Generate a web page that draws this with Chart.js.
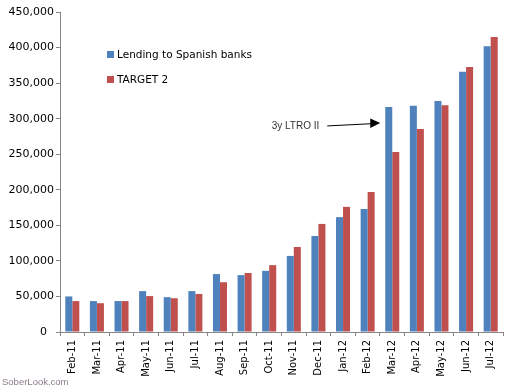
<!DOCTYPE html>
<html>
<head>
<meta charset="utf-8">
<script src="https://cdn.jsdelivr.net/npm/chart.js@4.4.0/dist/chart.umd.min.js"></script>
<style>
  html, body { margin: 0; padding: 0; background: #fff; }
  #wrap { position: relative; width: 507px; height: 388px; }
  #credit { position: absolute; left: 2px; top: 376px; font: 9.5px "Liberation Sans", sans-serif; color: #8a7c8a; }
</style>
</head>
<body>
<div id="wrap">
  <canvas id="chart" width="507" height="388"></canvas>
  <div id="credit">SoberLook.com</div>
</div>
<script>
'use strict';
let months = ['Feb-11','Mar-11','Apr-11','May-11','Jun-11','Jul-11','Aug-11','Sep-11','Oct-11',
              'Nov-11','Dec-11','Jan-12','Feb-12','Mar-12','Apr-12','May-12','Jun-12','Jul-12'];
let lending = [50000, 43500, 43500, 57500, 49000, 57500, 81500, 80000, 86000,
               107000, 135000, 161500, 173000, 316500, 318000, 325000, 366000, 402000];
let target2 = [43500, 40500, 43500, 50500, 47500, 53500, 70000, 83000, 94000,
               119500, 152000, 176000, 197000, 253000, 285500, 319000, 372500, 415000];
let seriesNames = ['Lending to Spanish banks', 'TARGET 2'];
let note = '3y LTRO II';
let noteMonth = 'Mar-12';
let noteLevel = 294000;

let FONT = '"DejaVu Sans", sans-serif';
let AXIS = '#868686';

// legend and arrow note drawn inside the plot, like the Excel original
let extras = {
    id: 'extras',
    afterDraw(chart){
        let c = chart.ctx;
        let area = chart.chartArea;
        c.save();
        c.font = '10.5px ' + FONT;
        c.textBaseline = 'middle';
        chart.data.datasets.forEach((ds, i) => {
            let y = area.top + 43 + i * 25;
            c.fillStyle = ds.backgroundColor;
            c.fillRect(area.left + 47, y - 4, 7, 7);
            c.fillStyle = '#000';
            c.fillText(ds.label, area.left + 57, y);
        });

        let xs = chart.scales.x, ys = chart.scales.y;
        let idx = months.indexOf(noteMonth);
        let tipX = xs.getPixelForValue(idx) - 12;
        let tipY = ys.getPixelForValue(noteLevel);
        let startX = tipX - 53, startY = tipY + 3;
        c.font = '10px "Liberation Sans", sans-serif';
        c.fillStyle = '#333';
        c.textAlign = 'right';
        c.fillText(note, startX - 8, startY);
        c.strokeStyle = '#000';
        c.lineWidth = 1;
        c.beginPath();
        c.moveTo(startX, startY);
        c.lineTo(tipX - 9, tipY + 0.8);
        c.stroke();
        c.fillStyle = '#000';
        c.beginPath();
        c.moveTo(tipX, tipY);
        c.lineTo(tipX - 10, tipY - 4.5);
        c.lineTo(tipX - 10, tipY + 5);
        c.closePath();
        c.fill();
        c.restore();
    }
};

new Chart(document.getElementById('chart'), {
    type: 'bar',
    data: {
        labels: months,
        datasets: [
            {label: seriesNames[0], data: lending, backgroundColor: '#4f81bd'},
            {label: seriesNames[1], data: target2, backgroundColor: '#c0504d'}
        ]
    },
    options: {
        responsive: false,
        animation: false,
        layout: {padding: {top: 12, right: 4, left: 0, bottom: 0}},
        datasets: {bar: {categoryPercentage: 0.57, barPercentage: 1.0, borderWidth: 0}},
        plugins: {legend: {display: false}, tooltip: {enabled: false}},
        scales: {
            x: {
                grid: {display: true, drawOnChartArea: false, drawTicks: true, color: AXIS, tickColor: AXIS, tickLength: 4},
                border: {color: AXIS},
                ticks: {font: {family: FONT, size: 10}, color: '#000', minRotation: 90, maxRotation: 90, padding: 4, autoSkip: false},
                afterFit(scale){ scale.height = 56; }
            },
            y: {
                min: 0, max: 450000,
                grid: {display: true, drawOnChartArea: false, drawTicks: true, color: AXIS, tickColor: AXIS, tickLength: 4},
                border: {color: AXIS},
                ticks: {
                    stepSize: 50000,
                    font: {family: FONT, size: 11}, color: '#000', padding: 2,
                    callback: v => v === 0 ? '0  ' : v.toLocaleString('en-US')
                },
                afterFit(scale){ scale.width = 60; }
            }
        }
    },
    plugins: [extras]
});
</script>
</body>
</html>
